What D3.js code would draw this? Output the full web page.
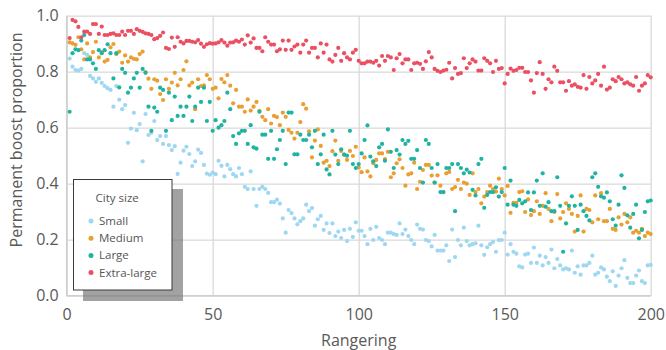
<!DOCTYPE html>
<html>
<head>
<meta charset="utf-8">
<script src="https://cdn.jsdelivr.net/npm/d3@7"></script>
<style>
  html, body { margin: 0; padding: 0; background: #fff; }
  svg { display: block; font-family: "Open Sans", "Noto Sans", sans-serif; }
</style>
</head>
<body>
<svg id="chart" width="666" height="350"></svg>
<script>
// ---- data (rank 1..200) ----
const seriesNames = ["Small", "Medium", "Large", "Extra-large"];
const xTicks = [0, 50, 100, 150, 200];
const yTicks = [0, 0.2, 0.4, 0.6, 0.8, 1.0];

const small = [
0.847,0.818,0.806,0.804,0.81,0.866,0.86,0.785,0.776,0.764, 0.776,0.76,0.749,0.741,0.735,0.675,0.749,0.70,0.666,0.681,
0.546,0.597,0.653,0.591,0.613,0.48,0.649,0.574,0.582,0.624, 0.556,0.57,0.542,0.57,0.538,0.52,0.534,0.435,0.475,0.518,
0.532,0.506,0.463,0.48,0.522,0.51,0.467,0.436,0.432,0.44,
0.434,0.482,0.464,0.426,0.467,0.452,0.434,0.426,0.456,0.434, 0.389,0.381,0.444,0.381,0.321,0.381,0.389,0.381,0.367,0.334,
0.334,0.343,0.329,0.276,0.225,0.306,0.295,0.276,0.255,0.266, 0.276,0.325,0.302,0.313,0.25,0.273,0.285,0.235,0.258,0.224,
0.258,0.213,0.229,0.206,0.235,0.195,0.239,0.21,0.262,0.232,
0.232,0.213,0.184,0.239,0.199,0.246,0.206,0.199,0.184,0.225, 0.225,0.22,0.217,0.258,0.22,0.236,0.213,0.199,0.184,0.254,
0.239,0.236,0.199,0.195,0.176,0.217,0.161,0.161,0.161,0.18, 0.124,0.236,0.138,0.199,0.18,0.243,0.195,0.18,0.184,0.187,
0.25,0.18,0.146,0.173,0.184,0.192,0.157,0.199,0.199,0.225,
0.147,0.184,0.157,0.15,0.105,0.101,0.147,0.15,0.117,0.172, 0.117,0.143,0.108,0.138,0.117,0.165,0.098,0.131,0.108,0.094,
0.098,0.094,0.161,0.082,0.105,0.075,0.108,0.108,0.117,0.143, 0.075,0.082,0.101,0.094,0.068,0.052,0.087,0.035,0.072,0.098,
0.127,0.064,0.045,0.045,0.072,0.09,0.052,0.045,0.108,0.11
];

const medium = [
0.905,0.901,0.896,0.923,0.88,0.844,0.901,0.851,0.87,0.907, 0.851,0.87,0.836,0.842,0.887,0.899,0.863,0.872,0.832,0.858,
0.836,0.851,0.846,0.844,0.863,0.872,0.799,0.775,0.739,0.773, 0.768,0.72,0.699,0.773,0.739,0.761,0.796,0.751,0.773,0.806,
0.837,0.751,0.761,0.666,0.773,0.749,0.751,0.788,0.773,0.739,
0.743,0.705,0.774,0.762,0.788,0.75,0.687,0.735,0.675,0.675, 0.657,0.701,0.661,0.675,0.692,0.66,0.639,0.627,0.666,0.615,
0.642,0.638,0.609,0.654,0.639,0.592,0.582,0.561,0.582,0.62, 0.684,0.668,0.587,0.494,0.554,0.594,0.535,0.475,0.482,0.463,
0.516,0.554,0.482,0.517,0.504,0.485,0.517,0.499,0.532,0.458,
0.441,0.494,0.444,0.426,0.473,0.485,0.508,0.508,0.488,0.514, 0.423,0.437,0.473,0.487,0.456,0.393,0.433,0.437,0.475,0.381,
0.407,0.449,0.467,0.467,0.429,0.404,0.43,0.393,0.37,0.437, 0.442,0.381,0.388,0.414,0.381,0.404,0.40,0.36,0.437,0.37,
0.381,0.33,0.354,0.37,0.393,0.381,0.372,0.418,0.381,0.358,
0.392,0.296,0.332,0.332,0.37,0.373,0.299,0.344,0.288,0.302, 0.337,0.292,0.321,0.366,0.31,0.266,0.299,0.363,0.276,0.299,
0.33,0.31,0.292,0.229,0.285,0.358,0.229,0.31,0.306,0.262, 0.358,0.273,0.366,0.266,0.266,0.31,0.239,0.235,0.28,0.254,
0.292,0.262,0.28,0.225,0.232,0.225,0.239,0.213,0.225,0.22
];

const large = [
0.657,0.866,0.88,0.877,0.911,0.931,0.844,0.844,0.83,0.81, 0.877,0.866,0.877,0.898,0.866,0.776,0.866,0.744,0.81,0.796,
0.725,0.743,0.776,0.796,0.743,0.81,0.796,0.675,0.589,0.672, 0.657,0.743,0.735,0.589,0.725,0.627,0.711,0.642,0.675,0.642,
0.675,0.711,0.624,0.675,0.743,0.692,0.743,0.624,0.692,0.589,
0.627,0.60,0.609,0.624,0.725,0.666,0.57,0.542,0.58,0.589, 0.589,0.542,0.609,0.53,0.525,0.657,0.575,0.575,0.489,0.589,
0.489,0.523,0.556,0.589,0.47,0.654,0.654,0.505,0.505,0.575, 0.556,0.556,0.575,0.53,0.589,0.47,0.505,0.575,0.451,0.433,
0.589,0.504,0.47,0.523,0.504,0.50,0.589,0.47,0.456,0.47,
0.508,0.556,0.608,0.497,0.48,0.463,0.53,0.542,0.482,0.594, 0.514,0.456,0.52,0.504,0.556,0.542,0.553,0.489,0.489,0.52,
0.456,0.404,0.556,0.542,0.456,0.404,0.47,0.37,0.37,0.456, 0.456,0.47,0.302,0.47,0.456,0.437,0.45,0.44,0.378,0.358,
0.47,0.489,0.314,0.36,0.37,0.37,0.387,0.354,0.37,0.456,
0.325,0.411,0.325,0.321,0.342,0.33,0.337,0.369,0.306,0.369, 0.411,0.321,0.437,0.318,0.334,0.302,0.302,0.423,0.321,0.157,
0.258,0.321,0.355,0.321,0.235,0.325,0.302,0.285,0.269,0.423, 0.437,0.389,0.355,0.35,0.369,0.337,0.273,0.25,0.325,0.43,
0.385,0.287,0.243,0.292,0.325,0.205,0.235,0.299,0.337,0.34
];

const extraLarge = [
0.92,0.985,0.98,0.96,0.923,0.943,0.943,0.935,0.97,0.97, 0.935,0.961,0.931,0.931,0.935,0.937,0.931,0.931,0.943,0.931,
0.946,0.946,0.935,0.952,0.946,0.942,0.937,0.935,0.931,0.916, 0.92,0.928,0.94,0.885,0.881,0.922,0.889,0.923,0.907,0.901,
0.91,0.91,0.907,0.905,0.913,0.9,0.889,0.898,0.902,0.9,
0.901,0.905,0.913,0.904,0.893,0.904,0.905,0.911,0.907,0.915, 0.897,0.930,0.904,0.919,0.885,0.885,0.873,0.923,0.907,0.897,
0.897,0.873,0.880,0.911,0.878,0.911,0.878,0.89,0.897,0.868, 0.897,0.911,0.868,0.885,0.885,0.851,0.901,0.868,0.897,0.844,
0.836,0.860,0.885,0.839,0.866,0.851,0.844,0.868,0.878,0.839,
0.83,0.83,0.836,0.836,0.832,0.839,0.822,0.856,0.839,0.856, 0.851,0.806,0.848,0.863,0.83,0.844,0.844,0.806,0.83,0.832,
0.828,0.81,0.837,0.87,0.851,0.81,0.803,0.799,0.804,0.807, 0.832,0.776,0.813,0.792,0.795,0.848,0.813,0.83,0.844,0.836,
0.804,0.804,0.848,0.839,0.83,0.799,0.839,0.81,0.813,0.758,
0.792,0.811,0.803,0.806,0.814,0.814,0.799,0.799,0.769,0.725, 0.795,0.834,0.792,0.739,0.773,0.762,0.818,0.803,0.762,0.762,
0.732,0.766,0.75,0.755,0.746,0.743,0.788,0.739,0.781,0.758, 0.769,0.792,0.75,0.818,0.736,0.743,0.773,0.766,0.781,0.773,
0.758,0.762,0.755,0.75,0.781,0.732,0.75,0.758,0.788,0.78
];

const seriesValues = [small, medium, large, extraLarge];
const colors = ["#9dd7f2", "#e99f31", "#1fb4a1", "#ea5062"];

// ---- layout ----
const svg = d3.select("#chart");
const x = d3.scaleLinear().domain([0, 200]).range([66.7, 650.7]);
const y = d3.scaleLinear().domain([0, 1]).range([295.7, 15.7]);
const textColor = "#595959";
const gridColor = "#d9d9d9";

// gridlines + y labels
const yAxis = svg.append("g")
  .attr("transform", `translate(${x(0)},0)`)
  .call(d3.axisLeft(y).tickValues(yTicks).tickFormat(d3.format(".1f"))
        .tickSize(-(x(200) - x(0))).tickPadding(8));
yAxis.select(".domain").remove();
yAxis.selectAll(".tick line").attr("stroke", gridColor).attr("stroke-width", 1.3);
yAxis.selectAll(".tick text").attr("fill", textColor).style("font-size", "16px")
  .style("font-family", '"Open Sans", sans-serif');

const xAxis = svg.append("g")
  .attr("transform", `translate(0,${y(0)})`)
  .call(d3.axisBottom(x).tickValues(xTicks).tickFormat(d3.format("d"))
        .tickSize(-(y(0) - y(1))).tickPadding(13));
xAxis.select(".domain").remove();
xAxis.selectAll(".tick line").attr("stroke", gridColor).attr("stroke-width", 1.3);
xAxis.selectAll(".tick text").attr("fill", textColor).style("font-size", "16px")
  .style("font-family", '"Open Sans", sans-serif');

// axis lines (left & bottom)
svg.append("line").attr("x1", x(0)).attr("x2", x(0)).attr("y1", y(1)).attr("y2", y(0))
  .attr("stroke", "#cfcfcf").attr("stroke-width", 1.5);
svg.append("line").attr("x1", x(0)).attr("x2", x(200)).attr("y1", y(0)).attr("y2", y(0))
  .attr("stroke", "#cfcfcf").attr("stroke-width", 1.5);

// points
seriesValues.forEach((vals, si) => {
  svg.append("g").selectAll("circle")
    .data(vals)
    .join("circle")
    .attr("cx", (d, i) => x(i + 1))
    .attr("cy", d => y(d))
    .attr("r", 2.1)
    .attr("fill", colors[si]);
});

// axis titles
svg.append("text")
  .attr("x", (x(0) + x(200)) / 2).attr("y", 345.5)
  .attr("text-anchor", "middle").attr("fill", textColor)
  .style("font-size", "16px").text("Rangering");
svg.append("text")
  .attr("transform", "translate(22,140) rotate(-90)")
  .attr("text-anchor", "middle").attr("fill", textColor)
  .style("font-size", "16px").text("Permanent boost proportion");

// legend
const lg = svg.append("g");
lg.append("rect").attr("x", 83).attr("y", 189).attr("width", 100).attr("height", 112)
  .attr("fill", "#7a7a7a").attr("opacity", 0.7);
lg.append("rect").attr("x", 73.5).attr("y", 179.5).attr("width", 98.5).attr("height", 110.5)
  .attr("fill", "#fff").attr("stroke", "#3a3a3a").attr("stroke-width", 1);
lg.append("text").attr("x", 95.5).attr("y", 197.7).attr("dy", "0.35em")
  .attr("fill", "#555").style("font-size", "11.5px").text("City size");
seriesNames.forEach((name, i) => {
  const cy = 221 + i * 17.2;
  lg.append("circle").attr("cx", 91).attr("cy", cy).attr("r", 2.5).attr("fill", colors[i]);
  lg.append("text").attr("x", 99).attr("y", cy).attr("dy", "0.35em")
    .attr("fill", "#555").style("font-size", "11.5px").text(name);
});
</script>
</body>
</html>
